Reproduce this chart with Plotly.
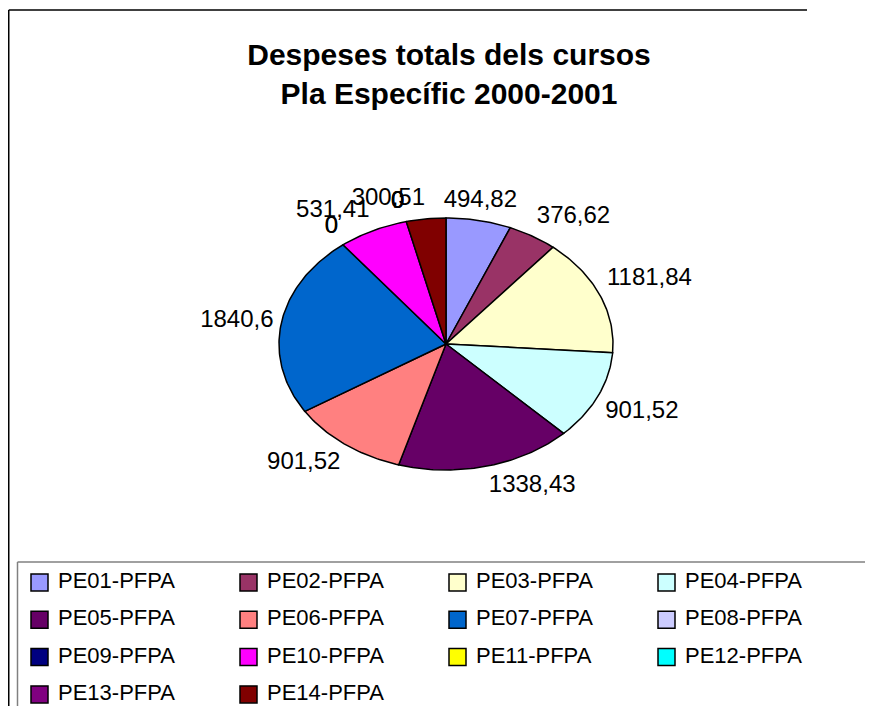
import math
import plotly.graph_objects as go

# ---- data ----
categories = ["PE01-PFPA", "PE02-PFPA", "PE03-PFPA", "PE04-PFPA", "PE05-PFPA",
              "PE06-PFPA", "PE07-PFPA", "PE08-PFPA", "PE09-PFPA", "PE10-PFPA",
              "PE11-PFPA", "PE12-PFPA", "PE13-PFPA", "PE14-PFPA"]
values = [494.82, 376.62, 1181.84, 901.52, 1338.43, 901.52, 1840.6,
          0, 0, 531.41, 0, 0, 0, 300.51]
colors = ["#9999FF", "#993366", "#FFFFCC", "#CCFFFF", "#660066", "#FF8080",
          "#0066CC", "#CCCCFF", "#000080", "#FF00FF", "#FFFF00", "#00FFFF",
          "#800080", "#800000"]
title_text = "Despeses totals dels cursos<br>Pla Específic 2000-2001"

# ---- layout constants (pixels; page body adds an 8px margin) ----
OFF = 8
W, H = 875 - 2 * OFF, 715 - 2 * OFF
CX, CY = 446 - OFF, 344 - OFF      # pie centre
RA, RB = 167, 126                  # ellipse radii
GAP = 8                            # label gap
LEG_X0, LEG_DX = 39.5 - OFF, 209   # legend grid (pixels from figure origin)
LEG_Y0, LEG_DY = 582.5 - OFF, 37.3
FONT = "Liberation Sans"


def fmt(v):
    s = ("%.2f" % v).rstrip("0").rstrip(".")
    return s.replace(".", ",")


def label_pos(deg):
    if deg < 20:
        return "top center"
    if deg < 75:
        return "top right"
    if deg < 105:
        return "middle right"
    if deg < 170:
        return "bottom right"
    if deg < 195:
        return "bottom center"
    if deg < 255:
        return "bottom left"
    if deg < 290:
        return "middle left"
    return "top left"


def px(x, y):
    """figure pixel (from top-left) -> data coords of the pixel-scaled axes"""
    return x - CX, CY - y


fig = go.Figure()

# ---- frames: separate straight segments (left side, top side) ----
for fx, fy, xend, col in [(8.75 - OFF, 10 - OFF, W - 60, "black"),
                          (17.5 - OFF, 562 - OFF, W - 2, "#808080")]:
    a, b = px(fx, H - 1), px(fx, fy)
    fig.add_trace(go.Scatter(x=[a[0], b[0]], y=[a[1], b[1]], mode="lines",
                             line=dict(color=col, width=1.5),
                             hoverinfo="skip", showlegend=False))
    c, d = px(fx, fy), px(xend, fy)
    fig.add_trace(go.Scatter(x=[c[0], d[0]], y=[c[1], d[1]], mode="lines",
                             line=dict(color=col, width=1.5),
                             hoverinfo="skip", showlegend=False))

total = sum(values)
cum = 0.0
lx, ly, lt, lp = [], [], [], []
for name, v, c in zip(categories, values, colors):
    t0 = cum / total * 2 * math.pi
    cum += v
    t1 = cum / total * 2 * math.pi
    if v > 0:
        n = max(3, int(math.degrees(t1 - t0)))
        ts = [t0 + (t1 - t0) * k / n for k in range(n + 1)]
        xs = [0] + [RA * math.sin(t) for t in ts] + [0]
        ys = [0] + [RB * math.cos(t) for t in ts] + [0]
        fig.add_trace(go.Scatter(
            x=xs, y=ys, mode="lines", fill="toself", fillcolor=c,
            line=dict(color="black", width=1.5), name=name,
            hoverinfo="text", text=f"{name}: {fmt(v)}", showlegend=False))
    tm = (t0 + t1) / 2
    lx.append((RA + GAP) * math.sin(tm))
    ly.append((RB + GAP) * math.cos(tm))
    lt.append(fmt(v))
    lp.append(label_pos(math.degrees(tm)))

fig.add_trace(go.Scatter(
    x=lx, y=ly, mode="text", text=lt, textposition=lp,
    textfont=dict(family=FONT, size=24, color="black"),
    hoverinfo="skip", showlegend=False))

# ---- legend (grid of keys, placed in the same pixel-scaled axes) ----
cols = [i % 4 for i in range(len(categories))]
rows = [i // 4 for i in range(len(categories))]
key_x = [LEG_X0 + c * LEG_DX - CX for c in cols]
key_y = [CY - (LEG_Y0 + r * LEG_DY) for r in rows]
fig.add_trace(go.Scatter(
    x=key_x, y=key_y, mode="markers",
    marker=dict(symbol="square", size=17, color=colors,
                line=dict(color="black", width=1.5)),
    hoverinfo="text", text=categories, showlegend=False))
fig.add_trace(go.Scatter(
    x=[x + 18.5 for x in key_x], y=key_y, mode="text",
    text=categories, textposition="middle right",
    textfont=dict(family=FONT, size=22, color="black"),
    hoverinfo="skip", showlegend=False))

fig.update_layout(
    width=W, height=H,
    margin=dict(l=0, r=0, t=0, b=0),
    paper_bgcolor="white", plot_bgcolor="white",
    showlegend=False,
    title=dict(text=title_text, x=(449 - OFF) / W, xanchor="center",
               yref="container", y=1 - 57 / H, yanchor="top",
               font=dict(family=FONT, size=30, color="black", weight="bold")),
    xaxis=dict(range=[-CX, W - CX], visible=False, fixedrange=True),
    yaxis=dict(range=[-(H - CY), CY], visible=False, fixedrange=True),
)

fig.write_html("out.html")
